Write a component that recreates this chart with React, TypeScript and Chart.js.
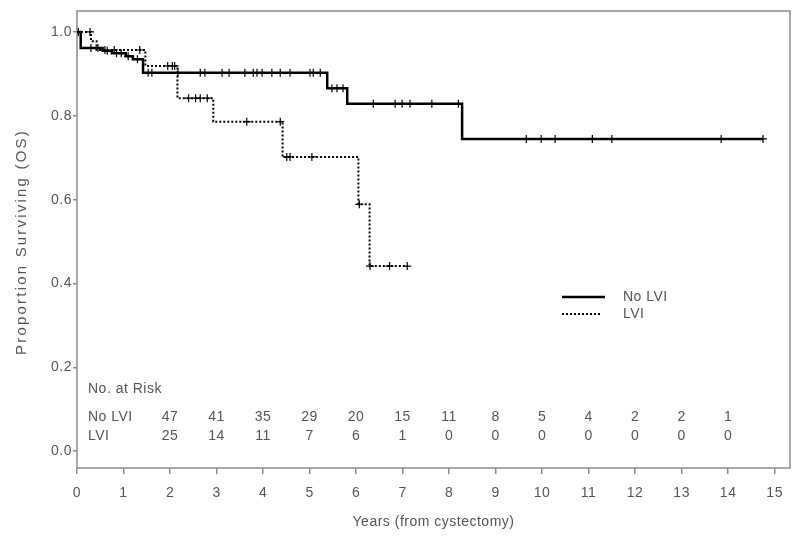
import React, { useEffect, useRef } from 'react';
import { Chart, registerables } from 'chart.js';

Chart.register(...registerables);

// ---- Data ----
const noLviStepTimes = [0, 0.08, 0.55, 0.75, 1.05, 1.2, 1.42, 5.38, 5.81, 8.28];
const noLviStepSurv = [1.0, 0.962, 0.955, 0.949, 0.942, 0.935, 0.903, 0.866, 0.829, 0.745];
const noLviEnd = 14.75;
const noLviCensor = [
  0.3, 0.45, 0.65, 0.85, 0.95, 1.1, 1.3,
  1.53, 1.61, 2.17, 2.65, 2.75, 3.12, 3.27, 3.61, 3.79, 3.87, 3.98, 4.19, 4.37, 4.58, 5.01, 5.08, 5.23,
  5.48, 5.59, 5.72,
  6.37, 6.84, 6.99, 7.16, 7.63, 8.2,
  9.66, 9.98, 10.28, 11.08, 11.5, 13.85, 14.75,
];

const lviStepTimes = [0, 0.3, 0.42, 1.47, 2.16, 2.93, 4.42, 6.05, 6.29];
const lviStepSurv = [1.0, 0.978, 0.957, 0.919, 0.842, 0.786, 0.702, 0.589, 0.4415];
const lviEnd = 7.1;
const lviCensor = [
  0.03, 0.28, 0.6, 0.8, 1.35, 1.95, 2.05, 2.1, 2.4, 2.55, 2.65, 2.8, 3.65, 4.37, 4.51, 4.58, 5.05,
  6.07, 6.3, 6.72, 7.1,
];

const atRiskYears = [2, 3, 4, 5, 6, 7, 8, 9, 10, 11, 12, 13, 14];
const atRiskNoLvi = [47, 41, 35, 29, 20, 15, 11, 8, 5, 4, 2, 2, 1];
const atRiskLvi = [25, 14, 11, 7, 6, 1, 0, 0, 0, 0, 0, 0, 0];

const xTickValues = [0, 1, 2, 3, 4, 5, 6, 7, 8, 9, 10, 11, 12, 13, 14, 15];
const yTickValues = [0, 0.2, 0.4, 0.6, 0.8, 1.0];

const seriesNames = ['No LVI', 'LVI'];
const xTitle = 'Years (from cystectomy)';
const yTitle = 'Proportion Surviving (OS)';
const atRiskTitle = 'No. at Risk';

// ---- helpers ----
function stepPoints(times: number[], surv: number[], end: number) {
  const pts = times.map((t, i) => ({ x: t, y: surv[i] }));
  pts.push({ x: end, y: surv[surv.length - 1] });
  return pts;
}
function survAt(times: number[], surv: number[], t: number) {
  let v = surv[0];
  for (let i = 0; i < times.length; i++) if (times[i] <= t) v = surv[i];
  return v;
}

const FONT = '"Liberation Sans", Arial, sans-serif';
const TEXT = '#555555';
const FRAME = '#8c8c8c';
const SP = '0.5px';

export default function App() {
  const ref = useRef<HTMLCanvasElement>(null);
  useEffect(() => {
    const spacing = {
      id: 'spacing',
      beforeUpdate(chart: any) { chart.ctx.letterSpacing = SP; },
      beforeDraw(chart: any) { chart.ctx.letterSpacing = SP; },
    };
    const frame = {
      id: 'frame',
      beforeDatasetsDraw(chart: any) {
        const { ctx, chartArea: a } = chart;
        ctx.save();
        ctx.strokeStyle = FRAME;
        ctx.lineWidth = 1.5;
        ctx.strokeRect(a.left, a.top, a.right - a.left, a.bottom - a.top);
        ctx.restore();
      },
      afterDraw(chart: any) {
        const { ctx } = chart;
        const xs = chart.scales.x;
        ctx.save();
        ctx.fillStyle = TEXT;
        ctx.font = `14px ${FONT}`;
        ctx.letterSpacing = SP;
        ctx.textBaseline = 'middle';
        // at-risk table
        ctx.textAlign = 'left';
        ctx.fillText(atRiskTitle, 88, 389);
        ctx.fillText(seriesNames[0], 88, 417);
        ctx.fillText(seriesNames[1], 88, 436);
        ctx.textAlign = 'center';
        atRiskYears.forEach((yr, i) => {
          const px = xs.getPixelForValue(yr);
          ctx.fillText(String(atRiskNoLvi[i]), px, 417);
          ctx.fillText(String(atRiskLvi[i]), px, 436);
        });
        // legend
        ctx.strokeStyle = '#000';
        ctx.lineWidth = 2.5;
        ctx.beginPath(); ctx.moveTo(562, 297); ctx.lineTo(605, 297); ctx.stroke();
        ctx.lineWidth = 2;
        ctx.setLineDash([2, 2]);
        ctx.beginPath(); ctx.moveTo(562, 314); ctx.lineTo(602, 314); ctx.stroke();
        ctx.setLineDash([]);
        ctx.textAlign = 'left';
        ctx.fillText(seriesNames[0], 623, 297);
        ctx.fillText(seriesNames[1], 623, 314);
        // y title
        ctx.translate(22, 242);
        ctx.rotate(-Math.PI / 2);
        ctx.textAlign = 'center';
        ctx.font = `15px ${FONT}`;
        ctx.letterSpacing = '2.2px';
        ctx.fillText(yTitle, 0, 0);
        ctx.restore();
      },
    };

    const chart = new Chart(ref.current!, {
      type: 'scatter',
      data: {
        datasets: [
          {
            label: seriesNames[0],
            data: stepPoints(noLviStepTimes, noLviStepSurv, noLviEnd),
            showLine: true,
            stepped: 'before',
            borderColor: '#000',
            borderWidth: 2.5,
            pointRadius: 0,
            fill: false,
          },
          {
            label: seriesNames[1],
            data: stepPoints(lviStepTimes, lviStepSurv, lviEnd),
            showLine: true,
            stepped: 'before',
            borderColor: '#000',
            borderWidth: 2,
            borderDash: [2, 2],
            pointRadius: 0,
            fill: false,
          },
          {
            label: 'c1',
            data: noLviCensor.map((t) => ({ x: t, y: survAt(noLviStepTimes, noLviStepSurv, t) })),
            showLine: false,
            pointStyle: 'cross',
            pointRadius: 4,
            borderColor: '#000',
            borderWidth: 1.2,
          },
          {
            label: 'c2',
            data: lviCensor.map((t) => ({ x: t, y: survAt(lviStepTimes, lviStepSurv, t) })),
            showLine: false,
            pointStyle: 'cross',
            pointRadius: 4,
            borderColor: '#000',
            borderWidth: 1.2,
          },
        ],
      },
      options: {
        responsive: false,
        devicePixelRatio: 1,
        animation: false,
        layout: { padding: { left: 0, right: 10, top: 11, bottom: 0 } },
        plugins: { legend: { display: false }, tooltip: { enabled: false } },
        scales: {
          x: {
            type: 'linear',
            min: 0,
            max: 15.33,
            afterBuildTicks: (s: any) => { s.ticks = xTickValues.map((v) => ({ value: v })); },
            afterFit: (s: any) => { s.height = 80; },
            border: { display: false },
            grid: { drawOnChartArea: false, drawTicks: true, tickLength: 6, color: FRAME, lineWidth: 1.5 },
            ticks: { color: TEXT, font: { family: FONT, size: 14 }, padding: 11, maxRotation: 0, autoSkip: false },
            title: { display: true, text: xTitle, color: TEXT, font: { family: FONT, size: 14 }, padding: { top: 0, bottom: 17 } },
          },
          y: {
            type: 'linear',
            min: -0.04,
            max: 1.05,
            afterBuildTicks: (s: any) => { s.ticks = yTickValues.map((v) => ({ value: v })); },
            afterFit: (s: any) => { s.width = 77; },
            border: { display: false },
            grid: { drawOnChartArea: false, drawTicks: true, tickLength: 4, color: FRAME, lineWidth: 1.5 },
            ticks: { color: TEXT, font: { family: FONT, size: 14 }, padding: 1, callback: (v: any) => Number(v).toFixed(1) },
          },
        },
      },
      plugins: [spacing, frame],
    } as any);
    return () => chart.destroy();
  }, []);
  return (
    <div style={{ position: 'fixed', left: 0, top: 0, width: 800, height: 548, background: '#fff' }}>
      <canvas ref={ref} width={800} height={548} style={{ display: 'block', width: 800, height: 548 }} />
    </div>
  );
}
